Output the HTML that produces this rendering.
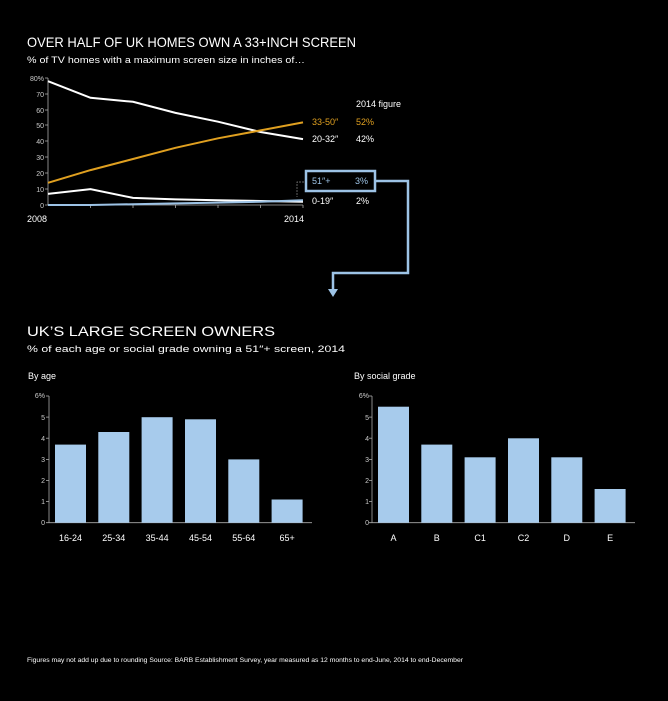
<!DOCTYPE html>
<html><head><meta charset="utf-8"><style>
html,body{margin:0;padding:0;background:#000;}
svg{display:block;font-family:"Liberation Sans",sans-serif;}
</style></head><body>
<svg width="668" height="701" viewBox="0 0 668 701">
<rect width="668" height="701" fill="#000"/>
<text x="27" y="47" fill="#fff" font-size="14" textLength="329" lengthAdjust="spacingAndGlyphs">OVER HALF OF UK HOMES OWN A 33+INCH SCREEN</text>
<text x="27" y="63" fill="#fff" font-size="9" textLength="278" lengthAdjust="spacingAndGlyphs">% of TV homes with a maximum screen size in inches of…</text>
<g fill="#ccc" font-size="7" text-anchor="end">
<text x="44" y="81">80%</text><text x="44" y="97">70</text><text x="44" y="113">60</text><text x="44" y="128">50</text><text x="44" y="144">40</text><text x="44" y="160">30</text><text x="44" y="176">20</text><text x="44" y="192">10</text><text x="44" y="208">0</text>
</g>
<g stroke="#aaa" stroke-width="0.8">
<line x1="48" y1="78" x2="48" y2="205"/>
<line x1="45" y1="78" x2="48" y2="78"/><line x1="45" y1="94" x2="48" y2="94"/><line x1="45" y1="110" x2="48" y2="110"/><line x1="45" y1="125" x2="48" y2="125"/><line x1="45" y1="141" x2="48" y2="141"/><line x1="45" y1="157" x2="48" y2="157"/><line x1="45" y1="173" x2="48" y2="173"/><line x1="45" y1="189" x2="48" y2="189"/>
<line x1="45" y1="205" x2="303" y2="205"/>
<line x1="90.5" y1="205" x2="90.5" y2="208"/><line x1="133" y1="205" x2="133" y2="208"/><line x1="175.5" y1="205" x2="175.5" y2="208"/><line x1="218" y1="205" x2="218" y2="208"/><line x1="260.5" y1="205" x2="260.5" y2="208"/><line x1="303" y1="205" x2="303" y2="208"/>
</g>
<text x="27" y="222" fill="#fff" font-size="9">2008</text>
<text x="284" y="222" fill="#fff" font-size="9">2014</text>
<g fill="none" stroke-width="2">
<polyline stroke="#fff" points="48,81.2 90.5,97.8 133,101.8 175.5,112.9 218,121.7 260.5,132 303,139.1"/>
<polyline stroke="#e0a020" points="48,182.8 90.5,170.1 133,159 175.5,147.8 218,138.3 260.5,130.4 303,122.4"/>
<polyline stroke="#fff" points="48,193.9 90.5,189.1 133,197.9 175.5,199.4 218,200.2 260.5,201 303,201.8"/>
<polyline stroke="#9dc3e6" points="48,205 90.5,205 133,204.2 175.5,203.4 218,202.6 260.5,201.8 303,200.2"/>
</g>
<text x="356" y="107" fill="#fff" font-size="9">2014 figure</text>
<text x="312" y="125" fill="#e0a020" font-size="9">33-50″</text><text x="356" y="125" fill="#e0a020" font-size="9">52%</text>
<text x="312" y="142" fill="#fff" font-size="9">20-32″</text><text x="356" y="142" fill="#fff" font-size="9">42%</text>
<text x="312" y="204" fill="#fff" font-size="9">0-19″</text><text x="356" y="204" fill="#fff" font-size="9">2%</text>
<polyline points="304,182 297,182 297,197" fill="none" stroke="#888" stroke-width="0.7" stroke-dasharray="2,1"/>
<rect x="306" y="171" width="69" height="20" fill="none" stroke="#9dc3e6" stroke-width="2.5"/>
<text x="312" y="184" fill="#9dc3e6" font-size="9">51″+</text><text x="355" y="184" fill="#9dc3e6" font-size="9">3%</text>
<polyline points="375,181 408,181 408,273 333,273 333,290" fill="none" stroke="#9dc3e6" stroke-width="2.5"/>
<polygon points="328,289 338,289 333,297" fill="#9dc3e6"/>
<text x="27" y="336" fill="#fff" font-size="14" textLength="248" lengthAdjust="spacingAndGlyphs">UK’S LARGE SCREEN OWNERS</text>
<text x="27" y="352" fill="#fff" font-size="9" textLength="318" lengthAdjust="spacingAndGlyphs">% of each age or social grade owning a 51″+ screen, 2014</text>
<text x="28" y="379" fill="#fff" font-size="9">By age</text>
<text x="354" y="379" fill="#fff" font-size="9">By social grade</text>
<g fill="#ccc" font-size="7" text-anchor="end">
<text x="45" y="398">6%</text><text x="45" y="420">5</text><text x="45" y="441">4</text><text x="45" y="462">3</text><text x="45" y="483">2</text><text x="45" y="504">1</text><text x="45" y="525">0</text>
<text x="369" y="398">6%</text><text x="369" y="420">5</text><text x="369" y="441">4</text><text x="369" y="462">3</text><text x="369" y="483">2</text><text x="369" y="504">1</text><text x="369" y="525">0</text>
</g>
<g stroke="#aaa" stroke-width="0.8">
<line x1="49" y1="396" x2="49" y2="522.7"/><line x1="46" y1="522.7" x2="312" y2="522.7"/>
<line x1="46" y1="396" x2="49" y2="396"/><line x1="46" y1="417.1" x2="49" y2="417.1"/><line x1="46" y1="438.2" x2="49" y2="438.2"/><line x1="46" y1="459.4" x2="49" y2="459.4"/><line x1="46" y1="480.5" x2="49" y2="480.5"/><line x1="46" y1="501.6" x2="49" y2="501.6"/>
<line x1="372" y1="396" x2="372" y2="522.7"/><line x1="369" y1="522.7" x2="635" y2="522.7"/>
<line x1="369" y1="396" x2="372" y2="396"/><line x1="369" y1="417.1" x2="372" y2="417.1"/><line x1="369" y1="438.2" x2="372" y2="438.2"/><line x1="369" y1="459.4" x2="372" y2="459.4"/><line x1="369" y1="480.5" x2="372" y2="480.5"/><line x1="369" y1="501.6" x2="372" y2="501.6"/>
</g>
<g fill="#a7cbec">
<rect x="55" y="444.6" width="31" height="78.1"/>
<rect x="98.3" y="432" width="31" height="90.7"/>
<rect x="141.6" y="417.2" width="31" height="105.5"/>
<rect x="185" y="419.3" width="31" height="103.4"/>
<rect x="228.3" y="459.4" width="31" height="63.3"/>
<rect x="271.6" y="499.5" width="31" height="23.2"/>
<rect x="378" y="406.7" width="31" height="116"/>
<rect x="421.3" y="444.6" width="31" height="78.1"/>
<rect x="464.6" y="457.3" width="31" height="65.4"/>
<rect x="508" y="438.3" width="31" height="84.4"/>
<rect x="551.3" y="457.3" width="31" height="65.4"/>
<rect x="594.6" y="489" width="31" height="33.7"/>
</g>
<g fill="#fff" font-size="9" text-anchor="middle">
<text x="70.5" y="541">16-24</text><text x="113.8" y="541">25-34</text><text x="157.1" y="541">35-44</text><text x="200.5" y="541">45-54</text><text x="243.8" y="541">55-64</text><text x="287.1" y="541">65+</text>
<text x="393.5" y="541">A</text><text x="436.8" y="541">B</text><text x="480.1" y="541">C1</text><text x="523.5" y="541">C2</text><text x="566.8" y="541">D</text><text x="610.1" y="541">E</text>
</g>
<text x="27" y="662" fill="#fff" font-size="6.5" textLength="436" lengthAdjust="spacingAndGlyphs">Figures may not add up due to rounding Source: BARB Establishment Survey, year measured as 12 months to end-June, 2014 to end-December</text>
</svg>
</body></html>
